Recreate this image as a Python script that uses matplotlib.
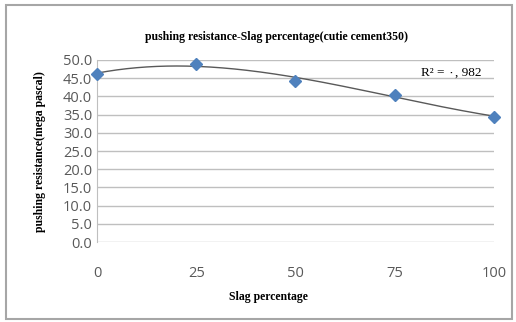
import numpy as np
import matplotlib.pyplot as plt
from matplotlib.patches import Rectangle

slag = [0, 25, 50, 75, 100]
resistance = [46.2, 48.9, 44.2, 40.5, 34.4]
y_ticks = [0, 5, 10, 15, 20, 25, 30, 35, 40, 45, 50]
r2_text = 'R\u00b2 = \u0660, 982'

fig = plt.figure(figsize=(5.16, 3.22), dpi=100)
fig.patches.append(Rectangle((0.012, 0.008), 0.98, 0.975, transform=fig.transFigure,
                             fill=False, edgecolor='#a6a6a6', linewidth=1.5))
ax = fig.add_axes([0.188, 0.248, 0.769, 0.566])

# polynomial trend line (order 3) over the measured points
coef = np.polyfit(slag, resistance, 3)
xs = np.linspace(0, 100, 200)
ax.plot(xs, np.polyval(coef, xs), color='#595959', linewidth=1.0, zorder=2)
ax.plot(slag, resistance, linestyle='none', marker='D', markersize=6.5,
        color='#4f81bd', zorder=3, clip_on=False)

ax.set_xlim(0, 100)
ax.set_ylim(0, 50)
ax.set_yticks(y_ticks)
ax.set_yticklabels([f'{v:.1f}' for v in y_ticks])
ax.set_xticks(slag)
ax.grid(axis='y', color='#bfbfbf', linewidth=1.0)
ax.set_axisbelow(True)
for s in ['top', 'right', 'bottom']:
    ax.spines[s].set_visible(False)
ax.spines['left'].set_color('#bfbfbf')
ax.tick_params(length=0, labelsize=10.5, labelcolor='#595959')
ax.tick_params(axis='x', pad=17)
for lab in ax.get_xticklabels() + ax.get_yticklabels():
    lab.set_family('Open Sans')

serif = 'Liberation Serif'
fig.text(0.535, 0.885, 'pushing resistance-Slag percentage(cutie cement350)',
         ha='center', va='center', fontsize=8.5, fontweight='bold', family=serif)
fig.text(0.078, 0.53, 'pushing resistance(mega pascal)', rotation=90,
         ha='center', va='center', fontsize=8.5, fontweight='bold', family=serif)
fig.text(0.52, 0.078, 'Slag percentage', ha='center', va='center',
         fontsize=8.5, fontweight='bold', family=serif)
ax.text(97, 46.6, r2_text, ha='right', va='center', fontsize=9.5,
        family=[serif, 'DejaVu Sans'])

fig.savefig('out.png', dpi=100)
